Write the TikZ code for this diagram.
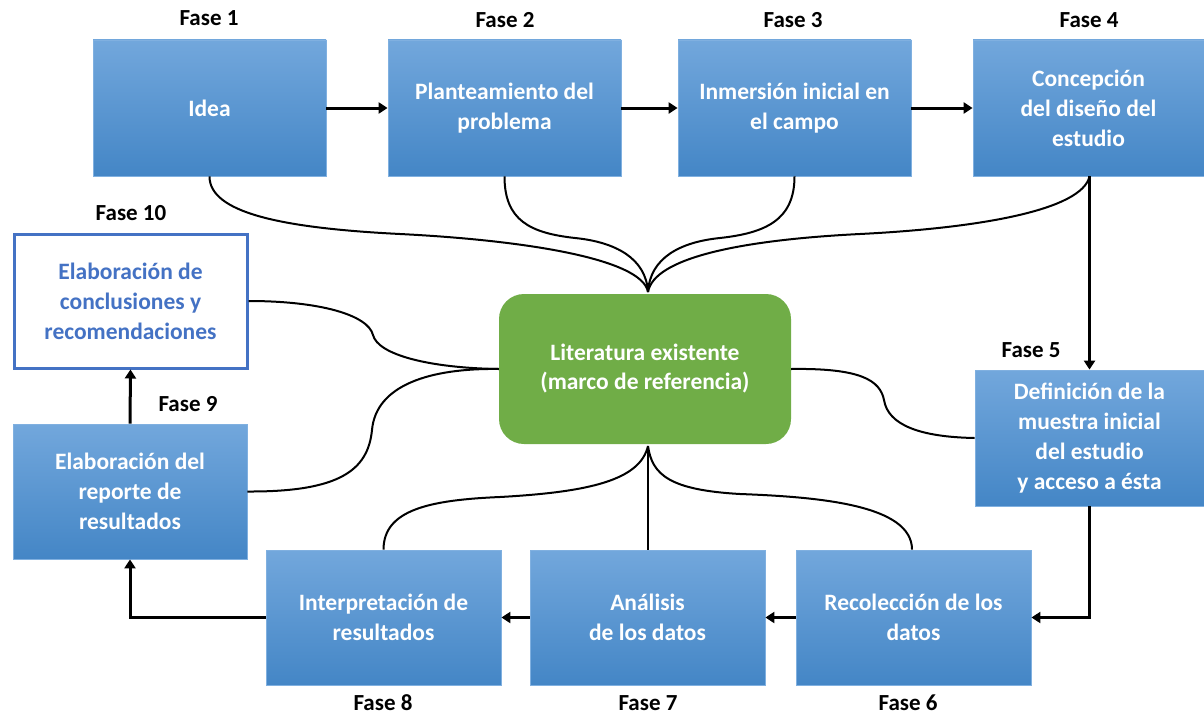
\documentclass[tikz,border=0pt]{standalone}
\usepackage{fontspec}
\setmainfont{Carlito}
\usetikzlibrary{arrows.meta,calc}
\definecolor{phasetop}{HTML}{72A7DC}
\definecolor{phasebot}{HTML}{4486C6}
\definecolor{phaseedge}{HTML}{80B0E0}
\definecolor{litgreen}{HTML}{70AD47}
\definecolor{outblue}{HTML}{4472C4}
\begin{document}
\begin{tikzpicture}[x=1pt,y=-1pt,
  phase/.style={rectangle, top color=phasetop, bottom color=phasebot,
    draw=phaseedge, line width=0.8pt, minimum width=233pt, minimum height=136pt,
    inner sep=0pt, text=white, align=center,
    font=\fontsize{23.5}{30}\selectfont\bfseries},
  lastphase/.style={rectangle, fill=white, draw=outblue, line width=3pt,
    minimum width=233pt, minimum height=134pt, inner sep=0pt, text=outblue,
    align=center, font=\fontsize{23.5}{30}\selectfont\bfseries},
  litbox/.style={rectangle, rounded corners=25pt, fill=litgreen,
    minimum width=292pt, minimum height=150pt, inner sep=0pt, text=white,
    align=center, font=\fontsize{23.5}{29}\selectfont\bfseries},
  tag/.style={font=\fontsize{23}{26}\selectfont\bfseries, inner sep=0pt},
  flow/.style={line width=3pt, -{Triangle[length=9pt,width=11pt]}},
  link/.style={line width=2pt}]
\useasboundingbox (0,0) rectangle (1204,717);

% phase boxes
\node[phase] (idea) at (209.5,108) {Idea};
\node[phase] (plant) at (504.5,108) {Planteamiento del\\problema};
\node[phase] (inm) at (794.5,108) {Inmersión inicial en\\el campo};
\node[phase, minimum width=231pt] (conc) at (1088.5,108) {Concepción\\del diseño del\\estudio};
\node[phase, minimum width=229pt, minimum height=136pt] (muestra) at (1089.5,438)
  {Definición de la\\muestra inicial\\del estudio\\y acceso a ésta};
\node[phase, minimum width=235pt, minimum height=135pt] (recol) at (913.5,617.5) {Recolección de los\\datos};
\node[phase, minimum width=235pt, minimum height=135pt] (anal) at (647.5,617.5) {Análisis\\de los datos};
\node[phase, minimum width=235pt, minimum height=135pt] (interp) at (383.5,617.5) {Interpretación de\\resultados};
\node[phase, minimum width=234pt, minimum height=135pt] (reporte) at (130,491.5) {Elaboración del\\reporte de\\resultados};
\node[lastphase] (concl) at (130.5,301) {Elaboración de\\conclusiones y\\recomendaciones};
\node[litbox] (lit) at (645,369) {Literatura existente\\(marco de referencia)};

% phase numbers
\node[tag] (t1) at (209,18) {Fase 1};
\node[tag] (t2) at (505,20) {Fase 2};
\node[tag] (t3) at (793,20) {Fase 3};
\node[tag] (t4) at (1089,20) {Fase 4};
\node[tag] (t5) at (1031,350) {Fase 5};
\node[tag] (t6) at (908,703) {Fase 6};
\node[tag] (t7) at (648,703) {Fase 7};
\node[tag] (t8) at (383,703) {Fase 8};
\node[tag] (t9) at (188,404) {Fase 9};
\node[tag] (t10) at (131,213) {Fase 10};

% meeting points on the central box
\coordinate (litN) at (648,292);
\coordinate (litS) at (648,446);
\coordinate (litW) at (lit.west);
\coordinate (litE) at (lit.east);

% sequence of phases
\draw[flow] (idea.east) -- (plant.west);
\draw[flow] (plant.east) -- (inm.west);
\draw[flow] (inm.east) -- (conc.west);
\draw[flow] (conc.south -| muestra.north) -- (muestra.north);
\draw[flow] (muestra.south) |- (recol.east);
\draw[flow] (recol.west) -- (anal.east);
\draw[flow] (anal.west) -- (interp.east);
\draw[flow] (interp.west) -| (reporte.south);
\draw[flow] (reporte.north) -- (concl.south);

% links to the literature
\draw[link] (idea.south) .. controls +(0,36) and (280,228) .. (400,234)
  .. controls (520,240) and (642,258) .. (litN);
\draw[link] (plant.south) .. controls +(0,44) and (530,233) .. (575,238)
  .. controls (615,242) and (646,258) .. (litN);
\draw[link] (inm.south) .. controls +(0,44) and (765,233) .. (720,238)
  .. controls (680,242) and (650,258) .. (litN);
\draw[link] (conc.south -| muestra.north) .. controls (1082,210) and (980,228) .. (860,234)
  .. controls (740,240) and (654,258) .. (litN);
\draw[link] (interp.north) .. controls +(0,-40) and (430,500) .. (500,497)
  .. controls (590,492) and (640,480) .. (litS);
\draw[link] (anal.north -| litS) -- (litS);
\draw[link] (recol.north -| 912,0) .. controls (912,505) and (820,497) .. (740,494)
  .. controls (670,490) and (652,475) .. (litS);
\draw[link] (concl.east) .. controls (320,301) and (368,315) .. (373,335)
  .. controls (378,355) and (430,368) .. (litW);
\draw[link] (reporte.east) .. controls (340,492) and (368,470) .. (372,430)
  .. controls (376,385) and (430,368) .. (litW);
\draw[link] (litE) .. controls (860,368) and (880,380) .. (884,400)
  .. controls (888,425) and (920,437) .. (muestra.west);
\end{tikzpicture}
\end{document}
